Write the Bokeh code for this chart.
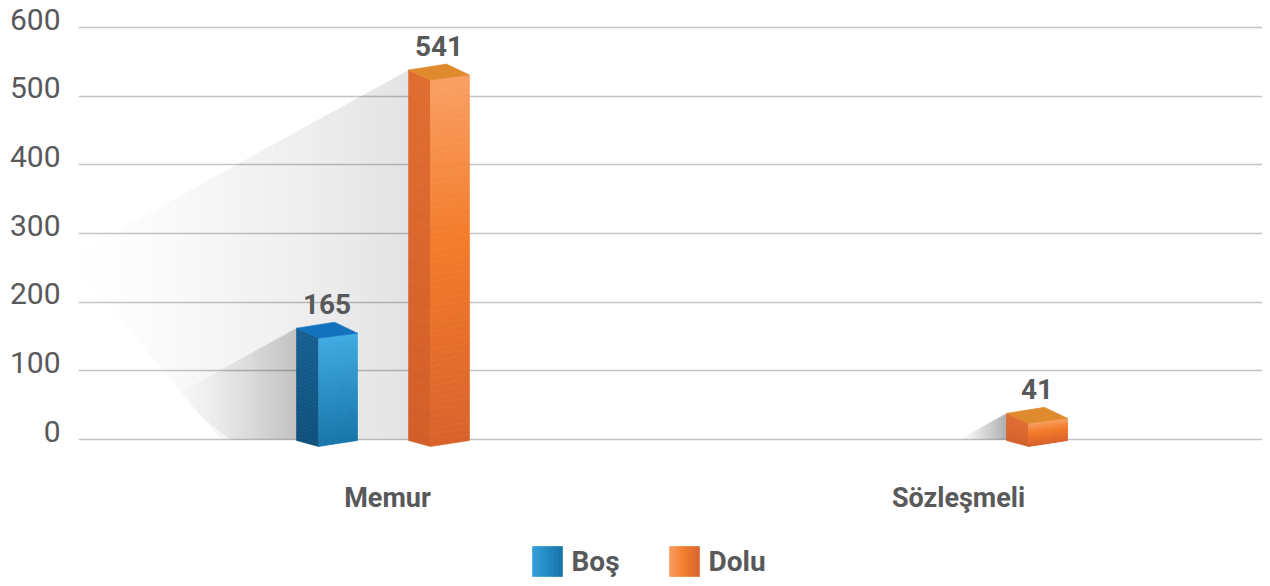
import numpy as np
from bokeh.plotting import figure
from bokeh.models import ColumnDataSource, FixedTicker, Range1d, LinearAxis, Grid
from bokeh.core.properties import value
from bokeh.embed import file_html
from bokeh.resources import INLINE

# ---------------- data ----------------
categories = ["Memur", "Sözleşmeli"]
series_names = ["Boş", "Dolu"]
bos_values = [165, 0]
dolu_values = [541, 41]
y_ticks = [0, 100, 200, 300, 400, 500, 600]

# ---------------- layout ----------------
W, H = 1262, 578
BL, BT = 78, 12
FW, FH = W - BL, H - BT
PX_PER_Y = 412.0 / 600.0      # pixels per value unit
PX_PER_X = 598.0              # pixels per category step
ZERO_PX = 427.0               # y=0 measured from frame top
CAT0_PX = 304.0               # first category measured from frame left
cat_label_shift_px = [5, -22]
tick_label_raise_px = 8.5

y_end = ZERO_PX / PX_PER_Y
y_start = y_end - FH / PX_PER_Y
x_start = -CAT0_PX / PX_PER_X
x_end = x_start + FW / PX_PER_X


def dx(px):
    return px / PX_PER_X


def dy(px):
    return px / PX_PER_Y


def page_x(px):
    return x_start + (px - BL) / PX_PER_X


def page_y(py):
    return y_end - (py - BT) / PX_PER_Y


def hex2rgb(h):
    h = h.lstrip("#")
    return np.array([int(h[i:i + 2], 16) for i in (0, 2, 4)], dtype=float)


def grad(stops, t):
    for (t0, c0), (t1, c1) in zip(stops[:-1], stops[1:]):
        if t <= t1:
            f = 0 if t1 == t0 else (t - t0) / (t1 - t0)
            c = hex2rgb(c0) * (1 - f) + hex2rgb(c1) * f
            return "#%02x%02x%02x" % tuple(int(round(v)) for v in c)
    return stops[-1][1]


styles = {
    "Boş": dict(front=[(0, "#3eaae2"), (1, "#1373a9")],
                side=[(0, "#165f91"), (1, "#0f4f7c")],
                top="#1272bd",
                legend=[(0, "#2f9fdc"), (1, "#1270a6")]),
    "Dolu": dict(front=[(0, "#f9a063"), (0.45, "#f37b2a"), (1, "#d9622b")],
                 side=[(0, "#e06d30"), (1, "#d35e29")],
                 top="#df8a2d",
                 legend=[(0, "#f89a5c"), (0.5, "#f27a2a"), (1, "#d8622b")]),
}
offsets = {"Boş": -86.0, "Dolu": 26.0}   # px from category centre to bar back-left

p = figure(width=W, height=H, output_backend="svg", toolbar_location=None,
           x_range=Range1d(x_start, x_end), y_range=Range1d(y_start, y_end),
           x_axis_location=None, y_axis_location=None,
           min_border_left=BL, min_border_top=BT,
           min_border_right=0, min_border_bottom=0)
p.outline_line_color = None
p.background_fill_color = "white"
p.border_fill_color = "white"
for g in list(p.xgrid) + list(p.ygrid):
    g.visible = False

# value axis (labels sit slightly above their grid lines, as in the original)
p.extra_y_ranges = {"lab": Range1d(y_start - dy(tick_label_raise_px), y_end - dy(tick_label_raise_px))}
yax = LinearAxis(y_range_name="lab", ticker=FixedTicker(ticks=y_ticks))
yax.axis_line_color = None
yax.major_tick_line_color = None
yax.minor_tick_line_color = None
yax.major_label_standoff = 12
yax.major_label_text_font = "Roboto"
yax.major_label_text_font_size = "30px"
yax.major_label_text_color = "#58595b"
p.add_layout(yax, "left")
p.add_layout(Grid(dimension=1, ticker=FixedTicker(ticks=y_ticks),
                  grid_line_color="#c4c4c4", grid_line_width=1.5))

shadow = dict(xs=[], ys=[], a=[])
faces = dict(xs=[], ys=[], c=[])
labels = dict(x=[], y=[], t=[])

N = 60
for name, vals in zip(series_names, [bos_values, dolu_values]):
    st = styles[name]
    for ci, v in enumerate(vals):
        if not v or v <= 0:
            continue
        L = ci + dx(offsets[name])
        vb = v - dy(2)
        tbl = (L, vb)
        tbr = (L + dx(38), vb + dy(6))
        tfr = (L + dx(61), vb - dy(5))
        tfl = (L + dx(22), vb - dy(10))
        bfl = (L + dx(22), -dy(7))
        bfr = (L + dx(61), -dy(1))
        bbl = (L, -dy(1))

        # shadow: horizontal-gradient wedge cast to the left of the bar
        hpx = v * PX_PER_Y
        slen = 0.85 * hpx + 25
        far = (L - dx(slen), vb - dy(0.55 * slen))
        bot_x = L - dx(0.55 * slen)          # where the lower edge meets the baseline
        amax = 0.35 * (28.0 / hpx) ** 0.45

        def lower(x):
            if x >= bot_x:
                return 0.0
            return far[1] * (bot_x - x) / (bot_x - far[0])

        S = 48
        for k in range(S):
            f0, f1 = k / S, (k + 1) / S   # 0 at bar, 1 at far end
            xa = L + (far[0] - L) * f0
            xb = L + (far[0] - L) * f1
            ta0 = vb + (far[1] - vb) * f0
            ta1 = vb + (far[1] - vb) * f1
            shadow["xs"].append([xa, xb, xb, xa])
            shadow["ys"].append([ta0, ta1, lower(xb), lower(xa)])
            shadow["a"].append(amax * (1 - (f0 + f1) / 2) ** 1.3)

        # side face
        M = 30
        for i in range(M):
            t0, t1 = i / M, (i + 1) / M
            ya0 = tbl[1] + (bbl[1] - tbl[1]) * t0
            ya1 = tbl[1] + (bbl[1] - tbl[1]) * t1
            yb0 = tfl[1] + (bfl[1] - tfl[1]) * t0
            yb1 = tfl[1] + (bfl[1] - tfl[1]) * t1
            faces["xs"].append([tbl[0], tfl[0], tfl[0], tbl[0]])
            faces["ys"].append([ya0, yb0, yb1, ya1])
            faces["c"].append(grad(st["side"], (t0 + t1) / 2))
        # front face
        for i in range(N):
            t0, t1 = i / N, (i + 1) / N
            yl0 = tfl[1] + (bfl[1] - tfl[1]) * t0
            yl1 = tfl[1] + (bfl[1] - tfl[1]) * t1
            yr0 = tfr[1] + (bfr[1] - tfr[1]) * t0
            yr1 = tfr[1] + (bfr[1] - tfr[1]) * t1
            faces["xs"].append([tfl[0], tfr[0], tfr[0], tfl[0]])
            faces["ys"].append([yl0, yr0, yr1, yl1])
            faces["c"].append(grad(st["front"], (t0 + t1) / 2))
        # top face
        faces["xs"].append([tbl[0], tbr[0], tfr[0], tfl[0]])
        faces["ys"].append([tbl[1], tbr[1], tfr[1], tfl[1]])
        faces["c"].append(st["top"])

        labels["x"].append(L + dx(30.5))
        labels["y"].append(v + dy(22))
        labels["t"].append(str(v))

p.patches("xs", "ys", source=ColumnDataSource(shadow), fill_color="black",
          fill_alpha="a", line_color=None)
p.patches("xs", "ys", source=ColumnDataSource(faces), fill_color="c",
          line_color="c", line_width=0.6)

p.text("x", "y", text="t", source=ColumnDataSource(labels),
       text_font=value("Roboto"), text_font_style="bold", text_font_size="28px",
       text_color="#58595b", text_align="center", text_baseline="alphabetic")

# category labels
p.text(x=[i + dx(s) for i, s in enumerate(cat_label_shift_px)],
       y=[-dy(58)] * len(categories), text=categories,
       text_font=value("Roboto"), text_font_style="bold", text_font_size="27px",
       text_color="#58595b", text_align="center", text_baseline="middle")

# legend (gradient swatches + text)
leg = dict(xs=[], ys=[], c=[])
leg_txt = dict(x=[], y=[], t=[])
sw_left = [532.0, 669.0]  # page px
for name, lx in zip(series_names, sw_left):
    x0 = page_x(lx)
    y_top = page_y(546)
    y_bot = page_y(576)
    K = 15
    for i in range(K):
        xa = x0 + dx(30) * i / K
        xb = x0 + dx(30) * (i + 1) / K
        leg["xs"].append([xa, xb, xb, xa])
        leg["ys"].append([y_top, y_top, y_bot, y_bot])
        leg["c"].append(grad(styles[name]["legend"], (i + 0.5) / K))
    leg_txt["x"].append(x0 + dx(39))
    leg_txt["y"].append((y_top + y_bot) / 2)
    leg_txt["t"].append(name)
p.patches("xs", "ys", source=ColumnDataSource(leg), fill_color="c", line_color="c", line_width=0.6)
p.text("x", "y", text="t", source=ColumnDataSource(leg_txt),
       text_font=value("Roboto"), text_font_style="bold", text_font_size="28px",
       text_color="#58595b", text_align="left", text_baseline="middle")

open("out.html", "w").write(file_html(p, INLINE))
